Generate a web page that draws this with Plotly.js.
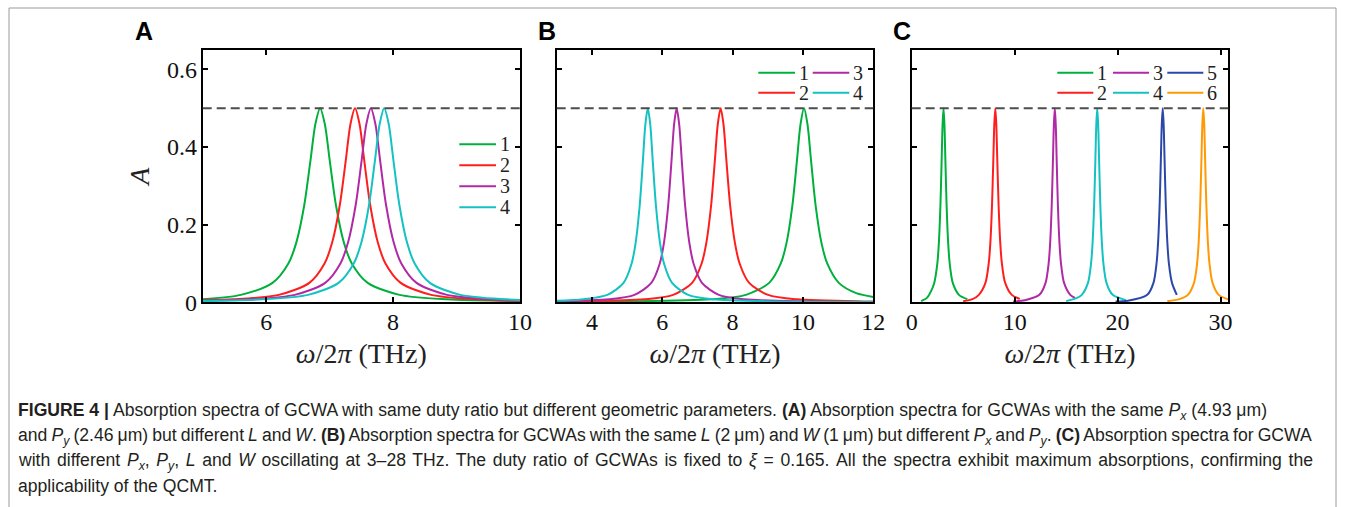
<!DOCTYPE html>
<html>
<head>
<meta charset="utf-8">
<script src="https://cdn.plot.ly/plotly-3.0.1.min.js"></script>
<style>
  html, body { margin: 0; padding: 0; background: #ffffff; }
  #chart { width: 1354px; height: 507px; }
</style>
</head>
<body>
<div id="chart"></div>
<script>
// ---------------- DATA ----------------
// Panel A: same Px, Py, different L and W
const xA1 = [5.0, 5.6, 6.1, 6.35, 6.475, 6.6, 6.7, 6.775, 6.85, 6.925, 7.0, 7.1, 7.225, 7.35, 7.6, 8.1, 8.85, 10.0];
const yA1 = [0.008, 0.0192, 0.05, 0.1, 0.1538, 0.25, 0.3676, 0.4587, 0.5, 0.4587, 0.3676, 0.25, 0.1538, 0.1, 0.05, 0.0192, 0.0077, 0.0031];
const xA2 = [5.0, 5.48, 6.2, 6.68, 6.92, 7.04, 7.16, 7.256, 7.328, 7.40, 7.472, 7.544, 7.64, 7.76, 7.88, 8.12, 8.60, 9.32, 10.0];
const yA2 = [0.005, 0.0077, 0.0192, 0.05, 0.1, 0.1538, 0.25, 0.3676, 0.4587, 0.5, 0.4587, 0.3676, 0.25, 0.1538, 0.1, 0.05, 0.0192, 0.0077, 0.0042];
const xA3 = [5.0, 5.73, 6.45, 6.93, 7.17, 7.29, 7.41, 7.506, 7.578, 7.65, 7.722, 7.794, 7.89, 8.01, 8.13, 8.37, 8.85, 9.57, 10.0];
const yA3 = [0.0041, 0.0077, 0.0192, 0.05, 0.1, 0.1538, 0.25, 0.3676, 0.4587, 0.5, 0.4587, 0.3676, 0.25, 0.1538, 0.1, 0.05, 0.0192, 0.0077, 0.0052];
const xA4 = [5.0, 5.94, 6.66, 7.14, 7.38, 7.50, 7.62, 7.716, 7.788, 7.86, 7.932, 8.004, 8.10, 8.22, 8.34, 8.58, 9.06, 9.78, 10.0];
const yA4 = [0.0035, 0.0077, 0.0192, 0.05, 0.1, 0.1538, 0.25, 0.3676, 0.4587, 0.5, 0.4587, 0.3676, 0.25, 0.1538, 0.1, 0.05, 0.0192, 0.0077, 0.0062];

// Panel B: same L and W, different Px and Py
const xB1 = [3.0, 5.08, 7.39, 8.38, 9.04, 9.37, 9.535, 9.70, 9.832, 9.931, 10.03, 10.129, 10.228, 10.36, 10.525, 10.69, 11.02, 11.515, 12.0];
const yB1 = [0.0011, 0.0022, 0.0077, 0.0192, 0.05, 0.1, 0.1538, 0.25, 0.3676, 0.4587, 0.5, 0.4587, 0.3676, 0.25, 0.1538, 0.1, 0.05, 0.0235, 0.0137];
const xB2 = [3.0, 3.61, 5.50, 6.31, 6.85, 7.12, 7.255, 7.39, 7.498, 7.579, 7.66, 7.741, 7.822, 7.93, 8.065, 8.20, 8.47, 9.01, 9.82, 11.71, 12.0];
const yB2 = [0.0017, 0.0022, 0.0077, 0.0192, 0.05, 0.1, 0.1538, 0.25, 0.3676, 0.4587, 0.5, 0.4587, 0.3676, 0.25, 0.1538, 0.1, 0.05, 0.0192, 0.0077, 0.0022, 0.0019];
const xB3 = [3.0, 4.49, 5.21, 5.69, 5.93, 6.05, 6.17, 6.266, 6.338, 6.41, 6.482, 6.554, 6.65, 6.77, 6.89, 7.13, 7.61, 8.33, 10.01, 12.0];
const yB3 = [0.0025, 0.0077, 0.0192, 0.05, 0.1, 0.1538, 0.25, 0.3676, 0.4587, 0.5, 0.4587, 0.3676, 0.25, 0.1538, 0.1, 0.05, 0.0192, 0.0077, 0.0022, 0.0009];
const xB4 = [3.0, 3.75, 4.44, 4.90, 5.13, 5.245, 5.36, 5.452, 5.521, 5.59, 5.659, 5.728, 5.82, 5.935, 6.05, 6.28, 6.74, 7.43, 9.04, 12.0];
const yB4 = [0.0039, 0.0077, 0.0192, 0.05, 0.1, 0.1538, 0.25, 0.3676, 0.4587, 0.5, 0.4587, 0.3676, 0.25, 0.1538, 0.1, 0.05, 0.0192, 0.0077, 0.0022, 0.0006];

// Panel C: different Px, Py, L and W (3-28 THz)
const xC1 = [0.92, 1.5, 1.89, 2.19, 2.49, 2.64, 2.79, 2.91, 3.00, 3.09, 3.18, 3.27, 3.39, 3.54, 3.69, 3.99, 4.59, 5.4];
const yC1 = [0.003, 0.012, 0.0294, 0.05, 0.1, 0.1538, 0.25, 0.3676, 0.4587, 0.5, 0.4587, 0.3676, 0.25, 0.1538, 0.1, 0.05, 0.0192, 0.008];
const xC2 = [5.0, 5.9, 6.52, 7.16, 7.48, 7.64, 7.80, 7.928, 8.024, 8.12, 8.216, 8.312, 8.44, 8.60, 8.76, 9.08, 9.72, 10.5];
const yC2 = [0.003, 0.008, 0.0192, 0.05, 0.1, 0.1538, 0.25, 0.3676, 0.4587, 0.5, 0.4587, 0.3676, 0.25, 0.1538, 0.1, 0.05, 0.0192, 0.0089];
const xC3 = [9.85, 11.0, 12.4, 13.0, 13.3, 13.45, 13.6, 13.72, 13.81, 13.9, 13.99, 14.08, 14.2, 14.35, 14.5, 14.8, 15.4, 15.85];
const yC3 = [0.002, 0.0053, 0.0192, 0.05, 0.1, 0.1538, 0.25, 0.3676, 0.4587, 0.5, 0.4587, 0.3676, 0.25, 0.1538, 0.1, 0.05, 0.0192, 0.0116];
const xC4 = [15.0, 16.0, 16.52, 17.12, 17.42, 17.57, 17.72, 17.84, 17.93, 18.02, 18.11, 18.20, 18.32, 18.47, 18.62, 18.92, 19.52, 20.8];
const yC4 = [0.003, 0.0108, 0.0192, 0.05, 0.1, 0.1538, 0.25, 0.3676, 0.4587, 0.5, 0.4587, 0.3676, 0.25, 0.1538, 0.1, 0.05, 0.0192, 0.0057];
const xC5 = [19.8, 21.0, 22.88, 23.48, 23.78, 23.93, 24.08, 24.20, 24.29, 24.38, 24.47, 24.56, 24.68, 24.83, 24.98, 25.28, 25.75];
const yC5 = [0.002, 0.0039, 0.0192, 0.05, 0.1, 0.1538, 0.25, 0.3676, 0.4587, 0.5, 0.4587, 0.3676, 0.25, 0.1538, 0.1, 0.05, 0.019];
const xC6 = [24.82, 26.0, 26.82, 27.42, 27.72, 27.87, 28.02, 28.14, 28.23, 28.32, 28.41, 28.50, 28.62, 28.77, 28.92, 29.22, 29.82, 30.8];
const yC6 = [0.003, 0.0082, 0.0192, 0.05, 0.1, 0.1538, 0.25, 0.3676, 0.4587, 0.5, 0.4587, 0.3676, 0.25, 0.1538, 0.1, 0.05, 0.0192, 0.0072];

// Labels and ticks
const seriesLabelsA = ['1', '2', '3', '4'];
const seriesLabelsB = ['1', '2', '3', '4'];
const seriesLabelsC = ['1', '2', '3', '4', '5', '6'];
const panelLabels = ['A', 'B', 'C'];
const xTicksA = [6, 8, 10];
const xTicksB = [4, 6, 8, 10, 12];
const xTicksC = [0, 10, 20, 30];
const yTickVals = [0, 0.2, 0.4, 0.6];
const yTickText = ['0', '0.2', '0.4', '0.6'];
const maxAbsorption = 0.5;
const xTitle = '<i>ω</i>/2<i>π</i> (THz)';
const yTitle = '<i>A</i>';
const captionLines = [
  '<b>FIGURE 4 |</b> Absorption spectra of GCWA with same duty ratio but different geometric parameters. <b>(A)</b> Absorption spectra for GCWAs with the same <i>P</i><sub><i>x</i></sub> (4.93 μm)',
  'and <i>P</i><sub><i>y</i></sub> (2.46 μm) but different <i>L</i> and <i>W</i>. <b>(B)</b> Absorption spectra for GCWAs with the same <i>L</i> (2 μm) and <i>W</i> (1 μm) but different <i>P</i><sub><i>x</i></sub> and <i>P</i><sub><i>y</i></sub>. <b>(C)</b> Absorption spectra for GCWA',
  'with different <i>P</i><sub><i>x</i></sub>, <i>P</i><sub><i>y</i></sub>, <i>L</i> and <i>W</i> oscillating at 3–28 THz. The duty ratio of GCWAs is fixed to <i>ξ</i> = 0.165. All the spectra exhibit maximum absorptions, confirming the',
  'applicability of the QCMT.'
];

// ---------------- STYLE / LAYOUT ----------------
const W = 1354, H = 507;
const PX = p => p / W;
const PY = p => 1 - p / H;
const serif = 'Liberation Serif, DejaVu Serif, serif';
const sans = 'Liberation Sans, Arial, sans-serif';
const colors = { green: '#00b03c', red: '#ff1e1e', magenta: '#b02aa5', cyan: '#14c2c2', blue: '#2b48a8', orange: '#ff9a05' };

function line(x, y, color, xa, ya) {
  return { type: 'scatter', mode: 'lines', x: x, y: y, xaxis: xa, yaxis: ya,
           line: { color: color, width: 2, shape: 'spline', smoothing: 0.8 }, hoverinfo: 'skip', showlegend: false };
}

const data = [
  line(xA1, yA1, colors.green, 'x', 'y'),
  line(xA2, yA2, colors.red, 'x', 'y'),
  line(xA3, yA3, colors.magenta, 'x', 'y'),
  line(xA4, yA4, colors.cyan, 'x', 'y'),
  line(xB1, yB1, colors.green, 'x2', 'y2'),
  line(xB2, yB2, colors.red, 'x2', 'y2'),
  line(xB3, yB3, colors.magenta, 'x2', 'y2'),
  line(xB4, yB4, colors.cyan, 'x2', 'y2'),
  line(xC1, yC1, colors.green, 'x3', 'y3'),
  line(xC2, yC2, colors.red, 'x3', 'y3'),
  line(xC3, yC3, colors.magenta, 'x3', 'y3'),
  line(xC4, yC4, colors.cyan, 'x3', 'y3'),
  line(xC5, yC5, colors.blue, 'x3', 'y3'),
  line(xC6, yC6, colors.orange, 'x3', 'y3')
];

const plotTop = 50, plotBottom = 302.3;
const domY = [PY(plotBottom), PY(plotTop)];
const domA = [PX(202.7), PX(520)];
const domB = [PX(556.7), PX(873.3)];
const domC = [PX(911.7), PX(1228.3)];

function xAxis(domain, range, ticks, anchor) {
  return {
    domain: domain, range: range, anchor: anchor, tickmode: 'array', tickvals: ticks,
    showline: true, linecolor: '#000', linewidth: 2, mirror: 'ticks',
    ticks: 'inside', ticklen: 5, tickwidth: 2, tickcolor: '#000',
    showgrid: false, zeroline: false, ticklabelstandoff: -3,
    tickfont: { family: serif, size: 24, color: '#111' },
    title: { text: xTitle, font: { family: serif, size: 28, color: '#222' }, standoff: 9 }
  };
}
function yAxis(domain, anchor, showLabels) {
  const ax = {
    domain: domain, range: [0, 0.65], anchor: anchor, tickmode: 'array',
    tickvals: yTickVals, ticktext: yTickText, showticklabels: showLabels,
    showline: true, linecolor: '#000', linewidth: 2, mirror: 'ticks',
    ticks: 'inside', ticklen: 5, tickwidth: 2, tickcolor: '#000',
    showgrid: false, zeroline: false, ticklabelstandoff: -1,
    tickfont: { family: serif, size: 24, color: '#111' }
  };
  if (showLabels) ax.title = { text: yTitle, font: { family: serif, size: 28, color: '#222' }, standoff: 9 };
  return ax;
}

const shapes = [];
const annotations = [];

// dashed maximum-absorption reference lines
['x', 'x2', 'x3'].forEach((xa, i) => {
  const ya = ['y', 'y2', 'y3'][i];
  shapes.push({ type: 'line', xref: xa + ' domain', x0: 0, x1: 1, yref: ya, y0: maxAbsorption, y1: maxAbsorption,
                line: { color: '#4d4d4d', width: 2, dash: '9px,5px' } });
});

// legends (drawn as keys)
function legendEntry(x0, x1, y, color, label) {
  shapes.push({ type: 'line', xref: 'paper', yref: 'paper', x0: PX(x0), x1: PX(x1), y0: PY(y), y1: PY(y),
                line: { color: color, width: 2 } });
  annotations.push({ xref: 'paper', yref: 'paper', x: PX(x1 + 1.5), y: PY(y), xanchor: 'left', yanchor: 'middle',
                     text: label, showarrow: false, font: { family: serif, size: 20, color: '#222' } });
}
const colA = [colors.green, colors.red, colors.magenta, colors.cyan];
[144.3, 165.3, 186.3, 207.3].forEach((y, i) => legendEntry(459.3, 496, y, colA[i], seriesLabelsA[i]));
// panel B: column-major 2x2
legendEntry(758.3, 795, 72.7, colors.green, seriesLabelsB[0]);
legendEntry(758.3, 795, 92.7, colors.red, seriesLabelsB[1]);
legendEntry(812.7, 849.3, 72.7, colors.magenta, seriesLabelsB[2]);
legendEntry(812.7, 849.3, 92.7, colors.cyan, seriesLabelsB[3]);
// panel C: column-major 2x3
const colC = [colors.green, colors.red, colors.magenta, colors.cyan, colors.blue, colors.orange];
const cCols = [[1057.3, 1093.3], [1113.0, 1149.0], [1167.3, 1203.3]];
for (let i = 0; i < 6; i++) {
  const c = cCols[Math.floor(i / 2)];
  legendEntry(c[0], c[1], i % 2 === 0 ? 72.7 : 92.7, colC[i], seriesLabelsC[i]);
}

// panel letters
[[144, 31.5], [546.5, 31.5], [902, 31.5]].forEach((p, i) => {
  annotations.push({ xref: 'paper', yref: 'paper', x: PX(p[0]), y: PY(p[1]), xanchor: 'center', yanchor: 'middle',
                     text: '<b>' + panelLabels[i] + '</b>', showarrow: false, font: { family: sans, size: 25, color: '#000' } });
});

// caption
const captionStart = annotations.length;
const captionRight = [1267, 1312, 1313, null];   // justified right edges (px); last line ragged
[411, 436, 461, 485.5].forEach((y, i) => {
  annotations.push({ xref: 'paper', yref: 'paper', x: PX(16), y: PY(y), xanchor: 'left', yanchor: 'middle', align: 'left',
                     text: captionLines[i], showarrow: false, font: { family: sans, size: 17.6, color: '#231f20' } });
});

// thin frame around the figure block
shapes.push({ type: 'line', xref: 'paper', yref: 'paper', x0: PX(9), x1: PX(9), y0: PY(8), y1: 0, line: { color: '#9a9a9a', width: 1 } });
shapes.push({ type: 'line', xref: 'paper', yref: 'paper', x0: PX(9), x1: PX(1336), y0: PY(8), y1: PY(8), line: { color: '#9a9a9a', width: 1 } });
shapes.push({ type: 'line', xref: 'paper', yref: 'paper', x0: PX(1336), x1: PX(1336), y0: PY(8), y1: 0, line: { color: '#9a9a9a', width: 1 } });

const layout = {
  width: W, height: H, autosize: false,
  margin: { l: 0, r: 0, t: 0, b: 0, pad: 0 },
  paper_bgcolor: '#ffffff', plot_bgcolor: '#ffffff',
  showlegend: false,
  xaxis: xAxis(domA, [5, 10], xTicksA, 'y'),
  yaxis: yAxis(domY, 'x', true),
  xaxis2: xAxis(domB, [3, 12], xTicksB, 'y2'),
  yaxis2: yAxis(domY, 'x2', false),
  xaxis3: xAxis(domC, [0, 30.75], xTicksC, 'y3'),
  yaxis3: yAxis(domY, 'x3', false),
  shapes: shapes,
  annotations: annotations
};

// justify caption lines by adjusting word spacing (as in the typeset caption)
function justifyCaption(gd) {
  const host = gd.getBoundingClientRect();
  captionRight.forEach((right, i) => {
    if (right == null) return;
    const g = gd.querySelector('g.annotation[data-index="' + (captionStart + i) + '"]');
    if (!g) return;
    const t = g.querySelector('text.annotation-text');
    if (!t) return;
    const spaces = (t.textContent.match(/ /g) || []).length;
    if (!spaces) return;
    const r0 = t.getBoundingClientRect();
    const left0 = r0.left - host.left;
    let ws = ((right - left0) - r0.width) / spaces;
    t.style.wordSpacing = ws + 'px';
    let r1 = t.getBoundingClientRect();
    ws += ((right - left0) - r1.width) / spaces;
    t.style.wordSpacing = ws + 'px';
    r1 = t.getBoundingClientRect();
    const shift = left0 - (r1.left - host.left);
    if (Math.abs(shift) > 0.2) {
      const prev = t.getAttribute('transform') || '';
      t.setAttribute('transform', prev + ' translate(' + shift + ',0)');
    }
  });
}

Plotly.newPlot('chart', data, layout, { displayModeBar: false, staticPlot: true }).then(justifyCaption);
</script>
</body>
</html>
